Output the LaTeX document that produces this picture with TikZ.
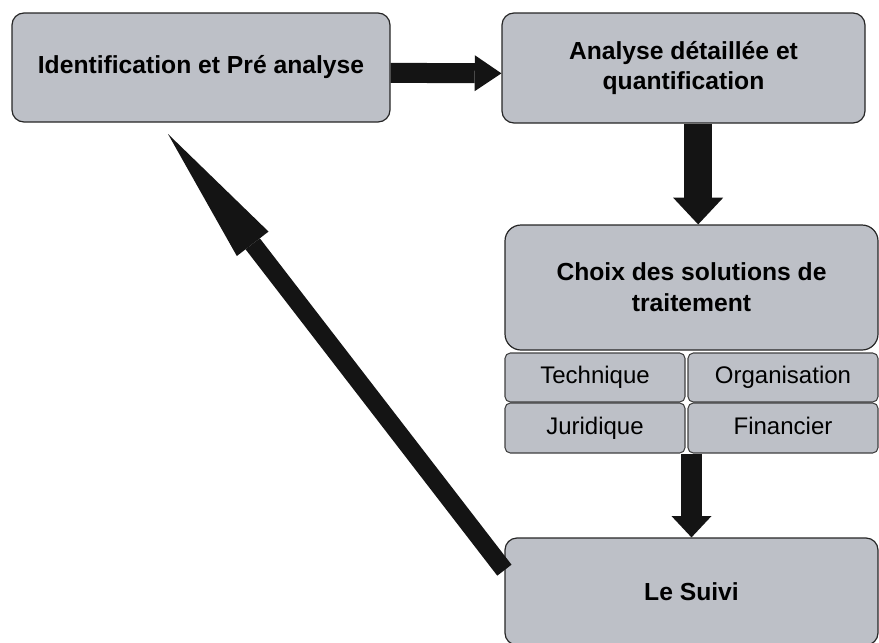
\documentclass[tikz,border=0pt]{standalone}
\usepackage{fontspec}
\setmainfont{Liberation Sans}
\usetikzlibrary{arrows.meta,positioning}
\definecolor{boxgray}{RGB}{189,192,199}
\definecolor{arrowblack}{RGB}{20,20,20}

\begin{document}
\begin{tikzpicture}[x=0.75pt,y=-0.75pt,
    box/.style={draw=black!85, line width=0.9pt, fill=boxgray, rounded corners=9pt,
      align=center, inner sep=0pt, font=\fontsize{18.5}{23}\selectfont\bfseries},
    subbox/.style={draw=black!75, line width=0.8pt, fill=boxgray, rounded corners=4pt,
      inner sep=0pt, text height=13pt, text depth=4pt, font=\fontsize{18}{22}\selectfont},
    fleche/.style={draw=arrowblack, line width=#1}]
  \useasboundingbox (0,0) rectangle (879,643);

  \node[box, minimum width=283.5pt, minimum height=81.75pt] (ident) at (201,67.5) {Identification et Pré analyse};
  \node[box, minimum width=272.25pt, minimum height=82.5pt] (analyse) at (683.5,68) {Analyse détaillée et\\quantification};
  \node[box, rounded corners=12pt, minimum width=279.75pt, minimum height=93.75pt] (choix) at (691.5,287.5) {Choix des solutions de\\traitement};
  \node[subbox, minimum width=135pt, minimum height=36.75pt] (tech) at (595,377.5) {Technique};
  \node[subbox, minimum width=142.5pt, minimum height=36.75pt] (orga) at (783,377.5) {Organisation};
  \node[subbox, minimum width=135pt, minimum height=37.5pt] (jur) at (595,428) {Juridique};
  \node[subbox, minimum width=142.5pt, minimum height=37.5pt] (fin) at (783,428) {Financier};
  \node[box, minimum width=279.75pt, minimum height=80.25pt] (suivi) at (691.5,591.5) {Le Suivi};
  \coordinate (retour) at (168,134);

  % fleches
  \draw[fleche=15pt, -{Triangle[width=27pt,length=20pt,line width=0pt]}] ([yshift=-4pt]ident.east) -- ([yshift=-4pt]analyse.west);
  \draw[fleche=21pt, -{Triangle[width=37.5pt,length=20pt,line width=0pt]}] ([xshift=11pt]analyse.south) -- ([xshift=11pt]analyse.south |- choix.north);
  \draw[fleche=16pt, -{Triangle[width=30pt,length=16pt,line width=0pt]}] (choix.center |- jur.south) -- (suivi.north);
  \draw[fleche=13.5pt, -{Triangle[width=30pt,length=104pt,line width=0pt]}] ([yshift=16pt]suivi.west) -- (retour);
\end{tikzpicture}
\end{document}
